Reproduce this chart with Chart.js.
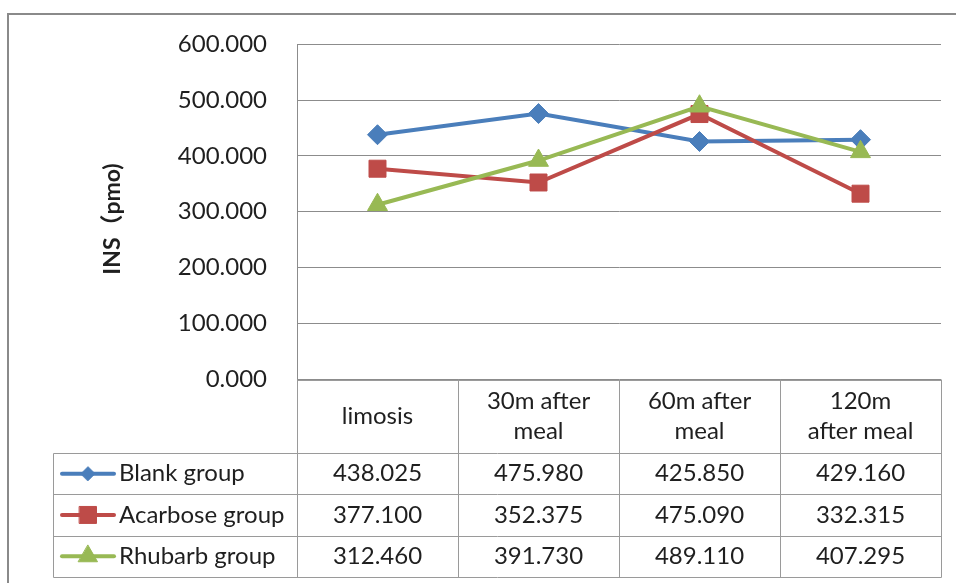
<!DOCTYPE html>
<html>
<head>
<meta charset="utf-8">
<script src="https://cdn.jsdelivr.net/npm/chart.js@4/dist/chart.umd.min.js"></script>
<style>
  html, body { margin: 0; padding: 0; background: #fff; }
  #wrap { width: 956px; height: 583px; }
</style>
</head>
<body>
<div id="wrap"><canvas id="c" width="956" height="583"></canvas></div>
<script>
// Sampling times (header lines of the data table)
const categories = [['limosis'], ['30m after', 'meal'], ['60m after', 'meal'], ['120m', 'after meal']];
const seriesNames = ['Blank group', 'Acarbose group', 'Rhubarb group'];

// Insulin values per group
const blankGroup    = [438.025, 475.980, 425.850, 429.160];
const acarboseGroup = [377.100, 352.375, 475.090, 332.315];
const rhubarbGroup  = [312.460, 391.730, 489.110, 407.295];

const yTicks = [0, 100, 200, 300, 400, 500, 600];
const yTitle = 'INS（pmo)';

const FONT = 'Lato, "Open Sans", "Noto Sans CJK SC", sans-serif';
const TEXT = '#1f1f1f';
const TEXT_SIZE = 24;
const seriesColors = ['#4a7ebb', '#be4b48', '#98b954'];
const seriesPoints = [
  { style: 'rectRot', radius: 10, keyRadius: 7 },
  { style: 'rect', radius: 12, keyRadius: 12 },
  { style: 'triangle', radius: 11.5, keyRadius: 11 }
];
const seriesValues = [blankGroup, acarboseGroup, rhubarbGroup];

// Outer frame of the chart object and the rotated value-axis title
const framePlugin = {
  id: 'frame',
  beforeDraw(chart) {
    const ctx = chart.ctx;
    ctx.save();
    ctx.fillStyle = '#fff';
    ctx.fillRect(0, 0, chart.width, chart.height);
    ctx.strokeStyle = '#8a8a8a';
    ctx.lineWidth = 2;
    ctx.strokeRect(8, 14, 1200, 1200);

    ctx.translate(113, 219);
    ctx.rotate(-Math.PI / 2);
    ctx.fillStyle = TEXT;
    ctx.font = 'bold 23px ' + FONT;
    ctx.textAlign = 'center';
    ctx.textBaseline = 'middle';
    ctx.fillText(yTitle, 0, 0);
    ctx.restore();
  }
};

// Data table under the plot, aligned with the category scale
const tablePlugin = {
  id: 'dataTable',
  afterDraw(chart) {
    const ctx = chart.ctx;
    const area = chart.chartArea;
    const xs = chart.scales.x;
    const centers = categories.map((_, i) => xs.getPixelForValue(i));
    const bounds = [area.left];
    for (let i = 0; i < centers.length - 1; i++) bounds.push((centers[i] + centers[i + 1]) / 2);
    bounds.push(area.right);

    const headTop = area.bottom + 1;
    const headBottom = headTop + 73;
    const rowH = 41.3;
    const tableLeft = 53;
    const rowTops = seriesNames.map((_, r) => headBottom + r * rowH);
    const tableBottom = headBottom + seriesNames.length * rowH;

    ctx.save();
    ctx.strokeStyle = '#9a9a9a';
    ctx.lineWidth = 1;
    const px = v => Math.round(v) + 0.5;
    ctx.beginPath();
    ctx.moveTo(px(area.left), px(headTop)); ctx.lineTo(px(area.right), px(headTop));
    [headBottom, ...rowTops.slice(1), tableBottom].forEach(y => {
      ctx.moveTo(px(tableLeft), px(y)); ctx.lineTo(px(area.right), px(y));
    });
    ctx.moveTo(px(tableLeft), px(headBottom)); ctx.lineTo(px(tableLeft), px(tableBottom));
    bounds.forEach(x => {
      ctx.moveTo(px(x), px(area.bottom)); ctx.lineTo(px(x), px(tableBottom));
    });
    ctx.stroke();

    ctx.fillStyle = TEXT;
    ctx.font = TEXT_SIZE + 'px ' + FONT;
    ctx.textAlign = 'center';
    ctx.textBaseline = 'middle';
    categories.forEach((lines, i) => {
      const mid = (headTop + headBottom) / 2;
      const gap = 30;
      lines.forEach((t, k) => {
        const y = mid + (k - (lines.length - 1) / 2) * gap;
        ctx.fillText(t, centers[i], y);
      });
    });
    seriesValues.forEach((vals, r) => {
      const cy = rowTops[r] + rowH / 2;
      vals.forEach((v, i) => ctx.fillText(v.toFixed(3), centers[i], cy));
    });
    seriesNames.forEach((name, r) => {
      const cy = rowTops[r] + rowH / 2;
      ctx.strokeStyle = seriesColors[r];
      ctx.lineWidth = 4;
      ctx.lineCap = 'round';
      ctx.beginPath();
      ctx.moveTo(62, cy); ctx.lineTo(114, cy);
      ctx.stroke();
      ctx.fillStyle = seriesColors[r];
      ctx.strokeStyle = seriesColors[r];
      ctx.lineWidth = 1;
      Chart.helpers.drawPoint(ctx, {
        pointStyle: seriesPoints[r].style,
        radius: seriesPoints[r].keyRadius,
        rotation: 0,
        borderWidth: 1
      }, 88, cy);
      ctx.fillStyle = TEXT;
      ctx.textAlign = 'left';
      ctx.fillText(name, 119, cy);
      ctx.textAlign = 'center';
    });
    ctx.restore();
  }
};

const datasets = seriesNames.map((name, i) => ({
  label: name,
  data: seriesValues[i],
  borderColor: seriesColors[i],
  backgroundColor: seriesColors[i],
  borderWidth: 4,
  pointStyle: seriesPoints[i].style,
  pointRadius: seriesPoints[i].radius,
  pointBorderWidth: 1,
  pointBorderColor: seriesColors[i],
  pointBackgroundColor: seriesColors[i],
  tension: 0,
  order: seriesNames.length - 1 - i
}));

new Chart(document.getElementById('c'), {
  type: 'line',
  data: { labels: categories.map(l => l.join(' ')), datasets },
  plugins: [framePlugin, tablePlugin],
  options: {
    responsive: false,
    animation: false,
    devicePixelRatio: 1,
    layout: { padding: { left: 100, top: 43, right: 15, bottom: 204 } },
    plugins: { legend: { display: false }, tooltip: { enabled: false } },
    scales: {
      x: {
        type: 'category',
        offset: true,
        display: false
      },
      y: {
        min: 0,
        max: 600,
        afterBuildTicks(scale) { scale.ticks = yTicks.map(v => ({ value: v })); },
        afterFit(scale) { scale.width = 197; },
        grid: { color: '#8c8c8c', lineWidth: 1, drawTicks: false },
        border: { display: true, color: '#8c8c8c', width: 1 },
        ticks: {
          padding: 30,
          color: TEXT,
          font: { family: FONT, size: TEXT_SIZE },
          callback: v => Number(v).toFixed(3)
        },
        title: { display: false, text: yTitle }
      }
    }
  }
});
</script>
</body>
</html>
